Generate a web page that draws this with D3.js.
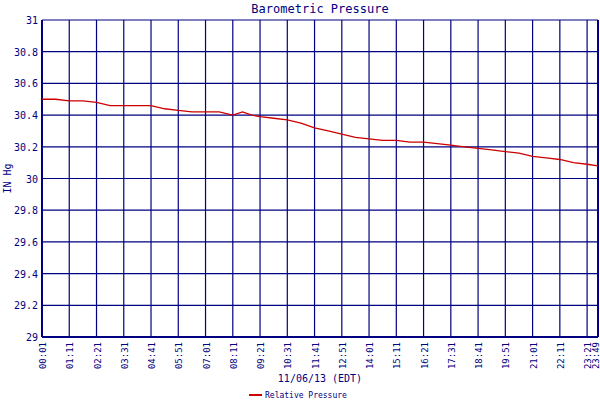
<!DOCTYPE html>
<html><head><meta charset="utf-8">
<script src="https://cdn.jsdelivr.net/npm/d3@7"></script>
<style>body{margin:0;background:#fff}text{font-family:"DejaVu Sans Mono",monospace;fill:#000080}</style>
</head><body><div id="chart"></div>
<script>
const times = ["00:01","00:36","01:11","01:46","02:21","02:56","03:31","04:06","04:41","05:16","05:51","06:26","07:01","07:36","08:11","08:36","09:00","09:21","09:56","10:31","11:06","11:41","12:16","12:51","13:26","14:01","14:36","15:11","15:46","16:21","16:56","17:31","18:06","18:41","19:16","19:51","20:26","21:01","21:36","22:11","22:46","23:21","23:49"];
const pressure = [30.50,30.50,30.49,30.49,30.48,30.46,30.46,30.46,30.46,30.44,30.43,30.42,30.42,30.42,30.40,30.42,30.40,30.39,30.38,30.37,30.35,30.32,30.30,30.28,30.26,30.25,30.24,30.24,30.23,30.23,30.22,30.21,30.20,30.19,30.18,30.17,30.16,30.14,30.13,30.12,30.10,30.09,30.08];
const tickLabels = ["00:01","01:11","02:21","03:31","04:41","05:51","07:01","08:11","09:21","10:31","11:41","12:51","14:01","15:11","16:21","17:31","18:41","19:51","21:01","22:11","23:21","23:49"];
const yTicks = [29,29.2,29.4,29.6,29.8,30,30.2,30.4,30.6,30.8,31];

const toMin = s => { const [h,m] = s.split(":").map(Number); return h*60+m; };
const W = 600, H = 400, m = {l:42, r:2, t:20, b:63};
const navy = "#000080";
const svg = d3.select("#chart").append("svg").attr("width",W).attr("height",H);
const x = d3.scaleLinear().domain([toMin("00:01"), toMin("23:49")]).range([m.l, W-m.r]);
const y = d3.scaleLinear().domain([29,31]).range([H-m.b, m.t]);

// grid
svg.append("g").selectAll("line").data(tickLabels).join("line")
  .attr("x1", d => x(toMin(d))).attr("x2", d => x(toMin(d)))
  .attr("y1", y(29)).attr("y2", y(31)).attr("stroke", navy).attr("stroke-width",1.2);
svg.append("g").selectAll("line").data(yTicks).join("line")
  .attr("x1", m.l).attr("x2", W-m.r).attr("y1", d => y(d)).attr("y2", d => y(d))
  .attr("stroke", navy).attr("stroke-width",1.2);
svg.append("line").attr("x1",m.l).attr("x2",m.l).attr("y1",y(29)).attr("y2",y(31)).attr("stroke",navy).attr("stroke-width",2);
svg.append("line").attr("x1",W-m.r).attr("x2",W-m.r).attr("y1",y(29)).attr("y2",y(31)).attr("stroke",navy).attr("stroke-width",2);
svg.append("line").attr("x1",m.l).attr("x2",W-m.r).attr("y1",y(29)).attr("y2",y(29)).attr("stroke",navy).attr("stroke-width",2);

// y labels
svg.append("g").selectAll("text").data(yTicks).join("text")
  .attr("x", m.l-4).attr("y", d => y(d)+4).attr("text-anchor","end").attr("font-size",10)
  .text(d => d3.format("")(+d.toFixed(1)));
// x labels
svg.append("g").selectAll("text").data(tickLabels).join("text")
  .attr("transform", (d,i) => `translate(${Math.min(x(toMin(d))+4, W-1)},${y(29)+5}) rotate(-90)`)
  .attr("text-anchor","end").attr("font-size",9).text(d => d);

// line
const pts = times.map((t,i) => [toMin(t), pressure[i]]);
svg.append("path").datum(pts).attr("fill","none").attr("stroke","#cc0000").attr("stroke-width",1.3)
  .attr("d", d3.line().x(d => x(d[0])).y(d => y(d[1])));

// titles
svg.append("text").attr("x",320).attr("y",13).attr("text-anchor","middle").attr("font-size",12).text("Barometric Pressure");
svg.append("text").attr("x",320).attr("y",382).attr("text-anchor","middle").attr("font-size",10).text("11/06/13 (EDT)");
svg.append("text").attr("transform",`translate(11,${(y(29)+y(31))/2}) rotate(-90)`).attr("text-anchor","middle").attr("font-size",10).text("IN Hg");
// legend
svg.append("line").attr("x1",249).attr("x2",262).attr("y1",395).attr("y2",395).attr("stroke","#cc0000").attr("stroke-width",2);
svg.append("text").attr("x",265).attr("y",398).attr("font-size",8).text("Relative Pressure");
</script></body></html>
